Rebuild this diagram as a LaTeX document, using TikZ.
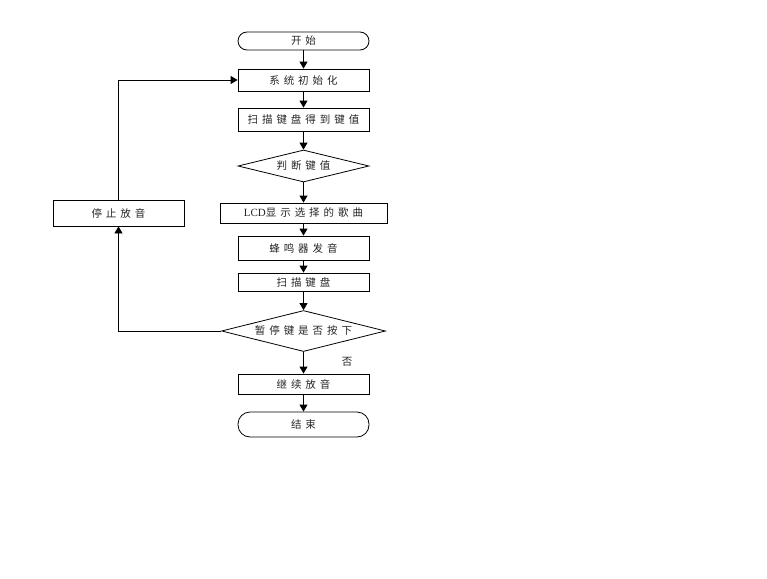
\documentclass[tikz,border=0pt]{standalone}
\usepackage{fontspec}
\newfontfamily\cjk[LetterSpace=38]{Noto Sans CJK SC}
\newfontfamily\latinf{Liberation Serif}
\usetikzlibrary{shapes.geometric,arrows.meta}
\begin{document}
\begin{tikzpicture}[x=1pt,y=-1pt,
  every node/.style={font=\cjk\fontsize{10.5}{12}\selectfont, text=black!85, inner sep=0pt},
  box/.style={draw, line width=0.8pt, minimum width=131, minimum height=22},
  term/.style={draw, line width=0.8pt, minimum width=131, rounded corners=9},
  dec/.style={draw, line width=0.8pt, diamond, inner sep=0pt},
  arr/.style={line width=0.8pt, -{Triangle[width=8pt,length=7pt]}}]
\fill[white] (0,0) rectangle (767,578);
\useasboundingbox (0,0) rectangle (767,578);
\node[term, minimum height=18] (start) at (303.5,41) {开始};
\node[box, minimum height=22] (init) at (303.5,80) {系统初始化};
\node[box, minimum height=23] (scan1) at (303.5,119.5) {扫描键盘得到键值};
\node[dec, minimum width=131, minimum height=32, aspect=4.1] (d1) at (303.5,166) {判断键值};
\node[box, minimum width=167, minimum height=20] (lcd) at (303.5,213) {{\latinf\fontsize{11}{12}\selectfont LCD}显示选择的歌曲};
\node[box, minimum height=24] (buzz) at (303.5,248) {蜂鸣器发音};
\node[box, minimum height=18] (scan2) at (303.5,282) {扫描键盘};
\node[dec, minimum width=164, minimum height=41, aspect=4] (d2) at (303.5,331) {暂停键是否按下};
\node (no) at (347,362) {否};
\node[box, minimum height=20] (cont) at (303.5,384) {继续放音};
\node[term, minimum height=25, rounded corners=12] (end) at (303.5,424.5) {结束};
\node[box, minimum height=26] (stop) at (118.5,213) {停止放音};
\draw[arr] (start) -- (init);
\draw[arr] (init) -- (scan1);
\draw[arr] (scan1) -- (d1);
\draw[arr] (d1) -- (lcd);
\draw[arr] (lcd) -- (buzz);
\draw[arr] (buzz) -- (scan2);
\draw[arr] (scan2) -- (d2);
\draw[arr] (d2) -- (cont);
\draw[arr] (cont) -- (end);
\draw[arr] (d2.west) -| (stop.south);
\draw[arr] (stop.north) |- (init.west);
\end{tikzpicture}
\end{document}
